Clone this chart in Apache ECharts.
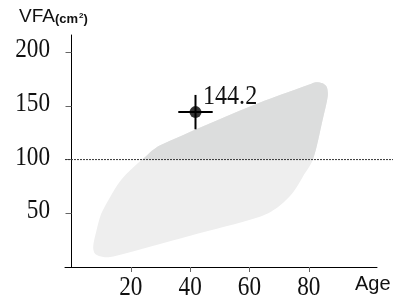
<!DOCTYPE html>
<html>
<head>
<meta charset="utf-8">
<script src="https://cdn.jsdelivr.net/npm/echarts@6/dist/echarts.min.js"></script>
<style>
  html, body { margin: 0; padding: 0; background: #fff; }
  #main { width: 393px; height: 296px; }
</style>
</head>
<body>
<div id="main"></div>
<script>
// 基準域の輪郭 (Age, VFA)
const blobX = [10.7, 14.1, 40, 63.5, 69.3, 74.6, 78, 81.4, 84.7, 86.4, 86.1, 84.7, 82.4, 80.4, 60.2, 29.9, 27.2, 24.8, 21.8, 18.4, 15.4, 12.7, 10.0, 8.3, 7.3, 8.0];
const blobY = [9.3, 9.8, 29.1, 46.7, 55.1, 69.2, 84.1, 100, 137.4, 158.9, 167.3, 171, 172, 170.1, 149.5, 113.4, 108.4, 102.3, 95.3, 86.4, 76.2, 63.6, 49.5, 32.7, 18.7, 12.1];
// 測定値
const pointX = [41.8];
const pointY = [144.2];
const errX = [5.8];
const errY = [16];
const refLine = 100;
const xTicks = [20, 40, 60, 80];
const yTicks = [50, 100, 150, 200];

const X_MIN = -2.2;
const serif = 'Liberation Serif';
const sans = 'Liberation Sans';
const narrow = 0.86;

const chart = echarts.init(document.getElementById('main'));

const option = {
  animation: false,
  grid: { left: 65, right: 16, top: 35, bottom: 29, containLabel: false, outerBoundsMode: 'none' },
  xAxis: {
    type: 'value',
    min: X_MIN,
    max: 103,
    splitLine: { show: false },
    axisLine: { lineStyle: { color: '#000', width: 1 } },
    axisTick: { show: true, length: 5, lineStyle: { color: '#666' }, customValues: xTicks },
    axisLabel: { show: false }
  },
  yAxis: {
    type: 'value',
    min: 0,
    max: 216,
    interval: 50,
    splitLine: { show: false },
    axisLine: { show: true, lineStyle: { color: '#000', width: 1 } },
    axisTick: { show: true, length: 6, lineStyle: { color: '#666' }, customValues: yTicks },
    axisLabel: { show: false }
  },
  graphic: [
    {
      type: 'text', left: 19, top: 7,
      style: {
        text: '{a|VFA}{b|(cm}{c|2}{b|)}',
        rich: {
          a: { fontFamily: sans, fontSize: 19, fill: '#111' },
          b: { fontFamily: sans, fontSize: 13, fontWeight: 'bold', fill: '#111', padding: [5, 0, 0, 0] },
          c: { fontFamily: sans, fontSize: 8, fontWeight: 'bold', fill: '#111', padding: [0, 0, 1, 1] }
        }
      }
    },
    {
      type: 'text', left: 355, top: 274,
      style: { text: 'Age', fontFamily: sans, fontSize: 20, fill: '#111' }
    }
  ],
  series: [
    // 基準域
    {
      type: 'custom',
      silent: true,
      z: 1,
      data: [0],
      renderItem: function (params, api) {
        const pts = blobX.map((x, i) => api.coord([x, blobY[i]]));
        const ySplit = api.coord([0, refLine])[1];
        return {
          type: 'group',
          children: [
            {
              type: 'polygon',
              shape: { points: pts, smooth: 0.3 },
              style: { fill: '#eeeeee' }
            },
            {
              type: 'polygon',
              shape: { points: pts, smooth: 0.3 },
              style: { fill: '#dcdddd' },
              clipPath: {
                type: 'rect',
                shape: { x: 0, y: 0, width: api.getWidth(), height: ySplit }
              }
            }
          ]
        };
      }
    },
    // 100 の点線
    {
      type: 'custom',
      silent: true,
      z: 2,
      data: [refLine],
      renderItem: function (params, api) {
        const p = api.coord([X_MIN, api.value(0)]);
        return {
          type: 'line',
          shape: { x1: p[0], y1: p[1], x2: api.getWidth(), y2: p[1] },
          style: { stroke: '#333', lineWidth: 1, lineDash: [2, 1] }
        };
      }
    },
    // x 目盛ラベル
    {
      type: 'custom',
      silent: true,
      z: 5,
      data: xTicks,
      renderItem: function (params, api) {
        const p = api.coord([api.value(0), 0]);
        return {
          type: 'text', x: p[0], y: p[1] + 7, scaleX: narrow,
          style: {
            text: String(api.value(0)), fontFamily: serif, fontSize: 27,
            fill: '#111', align: 'center', verticalAlign: 'top'
          }
        };
      }
    },
    // y 目盛ラベル
    {
      type: 'custom',
      silent: true,
      z: 5,
      data: yTicks,
      renderItem: function (params, api) {
        const p = api.coord([X_MIN, api.value(0)]);
        return {
          type: 'text', x: p[0] - 15, y: p[1] - 2, scaleX: narrow,
          style: {
            text: String(api.value(0)), fontFamily: serif, fontSize: 27,
            fill: '#111', align: 'right', verticalAlign: 'middle'
          }
        };
      }
    },
    // 誤差線と数値
    {
      type: 'custom',
      silent: true,
      z: 3,
      data: pointX.map((x, i) => [x, pointY[i], errX[i], errY[i]]),
      renderItem: function (params, api) {
        const x = api.value(0), y = api.value(1), ex = api.value(2), ey = api.value(3);
        const c = api.coord([x, y]);
        const l = api.coord([x - ex, y]), r = api.coord([x + ex, y]);
        const t = api.coord([x, y + ey]), b = api.coord([x, y - ey]);
        return {
          type: 'group',
          children: [
            { type: 'line', shape: { x1: l[0], y1: l[1], x2: r[0], y2: r[1] }, style: { stroke: '#000', lineWidth: 2 } },
            { type: 'line', shape: { x1: t[0], y1: t[1], x2: b[0], y2: b[1] }, style: { stroke: '#000', lineWidth: 2 } },
            {
              type: 'text', x: c[0] + 7.5, y: c[1] - 1, scaleX: narrow,
              style: {
                text: y.toFixed(1), fontFamily: serif, fontSize: 28,
                fill: '#111', align: 'left', verticalAlign: 'bottom'
              }
            }
          ]
        };
      }
    },
    {
      type: 'scatter',
      z: 4,
      symbol: 'circle',
      symbolSize: 12,
      itemStyle: { color: '#000' },
      data: pointX.map((x, i) => [x, pointY[i]])
    }
  ]
};

chart.setOption(option);
</script>
</body>
</html>
